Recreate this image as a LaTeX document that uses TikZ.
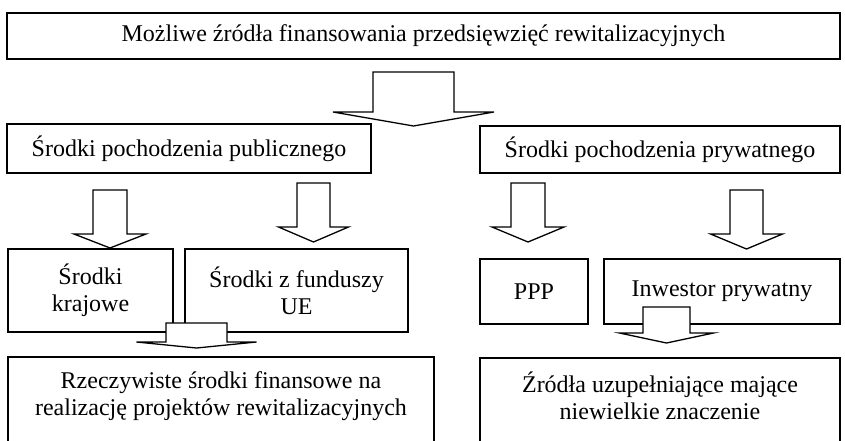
\documentclass[tikz,border=0pt]{standalone}
\usepackage{fontspec}
\setmainfont{Liberation Serif}
\usepackage{tikz}
\newcommand{\LW}{1.3pt}
% block arrow: centre x, shaft top, shaft half width, head base, head half width, tip
\newcommand{\barrow}[6]{\filldraw[fill=white, draw=black, line width=\LW, line join=miter] (#1-#3,#2) -- (#1+#3,#2) -- (#1+#3,#4) -- (#1+#5,#4) -- (#1,#6) -- (#1-#5,#4) -- (#1-#3,#4) -- cycle;}
\tikzset{
	box/.style={draw=black, line width=\LW, inner sep=0pt, outer sep=0pt, align=center, font=\fontsize{24}{27}\selectfont},
}

\begin{document}
\begin{tikzpicture}[x=1pt, y=-1pt]
	\useasboundingbox (0,0) rectangle (845,441);

	\node[box, minimum width=833, minimum height=46] (zrodla) at (423.5,36) {Możliwe źródła finansowania przedsięwzięć rewitalizacyjnych};
	\node[box, minimum width=364, minimum height=49] (publ) at (189,148.5) {Środki pochodzenia publicznego};
	\node[box, minimum width=360, minimum height=47] (pryw) at (660,149.5) {Środki pochodzenia prywatnego};

	\node[box, minimum width=165, minimum height=83] (kraj) at (90.5,290.5) {Środki\\krajowe};
	\node[box, minimum width=223, minimum height=83] (ue) at (296.5,290.5) {Środki z funduszy\\UE};
	\node[box, minimum width=108, minimum height=65] (ppp) at (534,291.5) {PPP};
	\node[box, minimum width=236, minimum height=65] (inwestor) at (722,291.5) {Inwestor prywatny};

	\node[box, minimum width=426, minimum height=120] (rzecz) at (221,417) {};
	\node[align=center, font=\fontsize{24}{27}\selectfont] (rzecztxt) at (221,396) {Rzeczywiste środki finansowe na\\realizację projektów rewitalizacyjnych};
	\node[box, minimum width=360, minimum height=120] (uzup) at (660,418) {};
	\node[align=center, font=\fontsize{24}{27}\selectfont] (uzuptxt) at (660,396) {Źródła uzupełniające mające\\niewielkie znaczenie};

	\barrow{413.5}{72}{40.5}{112}{80.5}{126}
	\barrow{110}{190}{17}{234}{36}{248}
	\barrow{313.5}{183}{16.5}{227}{35}{242}
	\barrow{528}{183}{17}{227}{36}{242}
	\barrow{746.5}{190}{16.5}{234}{36}{249}
	\barrow{196.5}{323}{30.5}{342}{60}{348}
	\barrow{666.5}{307}{23.5}{333}{47}{343}
\end{tikzpicture}
\end{document}
